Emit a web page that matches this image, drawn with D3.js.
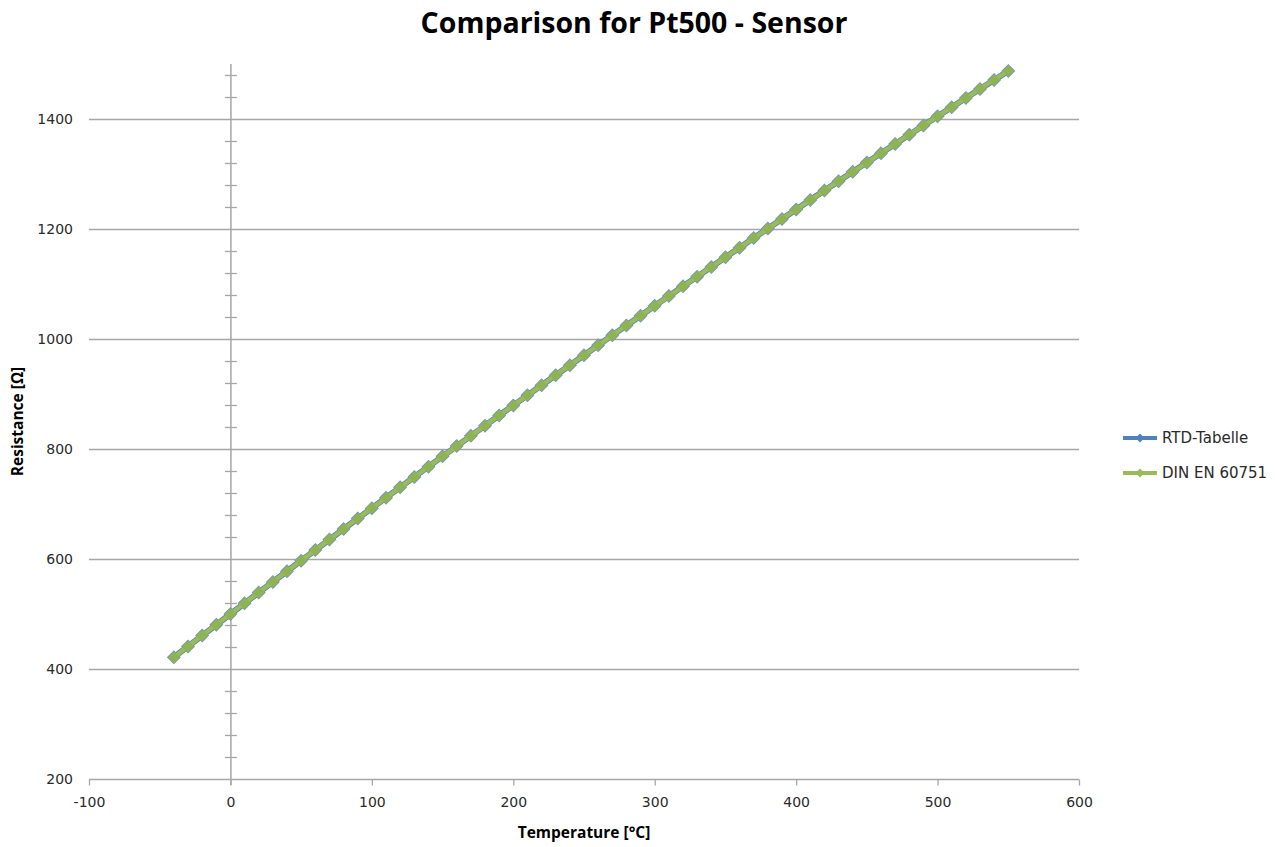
<!DOCTYPE html>
<html><head><meta charset="utf-8">
<script src="https://cdn.jsdelivr.net/npm/d3@7"></script>
<style>body{margin:0;background:#fff}</style>
</head><body>
<svg id="c" width="1284" height="847"></svg>
<script>
const temperatures = [-40,-30,-20,-10,0,10,20,30,40,50,60,70,80,90,100,110,120,130,140,150,160,170,180,190,200,210,220,230,240,250,260,270,280,290,300,310,320,330,340,350,360,370,380,390,400,410,420,430,440,450,460,470,480,490,500,510,520,530,540,550];
const rtdTabelle = [421.4,441.1,460.8,480.4,500.0,519.5,539.0,558.4,577.7,597.0,616.2,635.4,654.5,673.5,692.5,711.5,730.3,749.2,767.9,786.6,805.3,823.9,842.4,860.9,879.3,897.6,915.9,934.2,952.4,970.5,988.6,1006.6,1024.5,1042.4,1060.3,1078.0,1095.8,1113.4,1131.0,1148.6,1166.1,1183.5,1200.9,1218.2,1235.5,1252.7,1269.8,1286.9,1303.9,1320.9,1337.8,1354.7,1371.5,1388.2,1404.9,1421.5,1438.1,1454.6,1471.0,1487.4];
const dinEN60751 = [421.35,441.11,460.80,480.43,500.00,519.51,538.97,558.36,577.70,596.99,616.21,635.38,654.48,673.53,692.53,711.46,730.34,749.16,767.92,786.63,805.27,823.86,842.39,860.86,879.28,897.64,915.94,934.18,952.36,970.49,988.56,1006.57,1024.52,1042.42,1060.26,1078.04,1095.76,1113.42,1131.03,1148.58,1166.07,1183.51,1200.88,1218.20,1235.46,1252.66,1269.81,1286.89,1303.92,1320.90,1337.81,1354.67,1371.46,1388.20,1404.89,1421.51,1438.08,1454.59,1471.04,1487.44];
const xTicks = [-100,0,100,200,300,400,500,600];
const yTicks = [200,400,600,800,1000,1200,1400];
const seriesNames = ["RTD-Tabelle","DIN EN 60751"];
const seriesColors = ["#4F81BD","#9BBB59"];

const svg = d3.select("#c");
const L=89,R=1079,T=64,B=779;
const x = d3.scaleLinear().domain([-100,600]).range([L,R]);
const y = d3.scaleLinear().domain([200,1500]).range([B,T]);
const grid="#a6a6a6";
const tickFont="'DejaVu Sans', Verdana, sans-serif";
const txtCol="#2a2a2a";

svg.append("g").selectAll("line").data(yTicks.filter(d=>d>200)).join("line")
  .attr("x1",L).attr("x2",R).attr("y1",d=>y(d)+0.5).attr("y2",d=>y(d)+0.5)
  .attr("stroke",grid).attr("stroke-width",1.3);

const xa = svg.append("g").attr("transform",`translate(0,${B+0.5})`)
  .call(d3.axisBottom(x).tickValues(xTicks).tickSize(6).tickPadding(10).tickFormat(d=>String(d)));
xa.select(".domain").attr("stroke",grid).attr("stroke-width",1.5).attr("d",`M${L},0H${R}`);
xa.selectAll(".tick line").attr("stroke",grid).attr("stroke-width",1.3);
xa.selectAll("text").attr("font-family",tickFont).attr("font-size",14).attr("fill",txtCol).attr("dy","0.85em");

const x0 = x(0)+0.5;
svg.append("line").attr("x1",x0).attr("x2",x0).attr("y1",T).attr("y2",B+6).attr("stroke",grid).attr("stroke-width",1.5);
const minor = d3.range(200,1501,40).filter(d=>d%200!==0);
svg.append("g").selectAll("line").data(minor).join("line")
  .attr("x1",x0-6).attr("x2",x0+6).attr("y1",d=>y(d)+0.5).attr("y2",d=>y(d)+0.5)
  .attr("stroke",grid).attr("stroke-width",1.3);
svg.append("g").selectAll("text").data(yTicks).join("text")
  .attr("x",73).attr("y",d=>y(d)).attr("dy","0.35em").attr("text-anchor","end")
  .attr("font-family",tickFont).attr("font-size",14).attr("fill",txtCol).text(d=>d);

const line = d3.line().x((d,i)=>x(temperatures[i])).y(d=>y(d));
const dia = r => `M0,${-r}L${r},0L0,${r}L${-r},0Z`;
const markerR=[7,6], lineW=[6,4.5], markerFill=["#6b95c6","#8fb253"];
[rtdTabelle,dinEN60751].forEach((vals,k)=>{
  svg.append("path").datum(vals).attr("d",line).attr("fill","none")
    .attr("stroke",seriesColors[k]).attr("stroke-width",lineW[k]);
  svg.append("g").selectAll("path").data(vals).join("path")
    .attr("transform",(d,i)=>`translate(${x(temperatures[i])},${y(d)})`)
    .attr("d",dia(markerR[k])).attr("fill",markerFill[k]);
});

svg.append("text").attr("x",634).attr("y",33).attr("text-anchor","middle")
  .attr("font-family","'Open Sans', sans-serif").attr("font-weight","bold").attr("font-size",28.5).attr("fill","#000")
  .text("Comparison for Pt500 - Sensor");
svg.append("text").attr("x",584).attr("y",838).attr("text-anchor","middle")
  .attr("font-family","'Open Sans', sans-serif").attr("font-weight","bold").attr("font-size",15.5).attr("fill","#000")
  .text("Temperature [°C]");
svg.append("text").attr("transform",`translate(23,${(T+B)/2}) rotate(-90)`).attr("text-anchor","middle")
  .attr("font-family","'Open Sans', sans-serif").attr("font-weight","bold").attr("font-size",15.5).attr("fill","#000")
  .text("Resistance  [Ω]");

const lg = svg.append("g");
seriesNames.forEach((n,k)=>{
  const ly = 438+k*35;
  lg.append("line").attr("x1",1123).attr("x2",1157).attr("y1",ly).attr("y2",ly).attr("stroke",seriesColors[k]).attr("stroke-width",4);
  lg.append("path").attr("transform",`translate(1140,${ly})`).attr("d",dia(4.5)).attr("fill",seriesColors[k]);
  lg.append("text").attr("x",1162).attr("y",ly).attr("dy","0.35em").attr("font-family",tickFont).attr("font-size",15).attr("fill",txtCol).text(n);
});
</script>
</body></html>
